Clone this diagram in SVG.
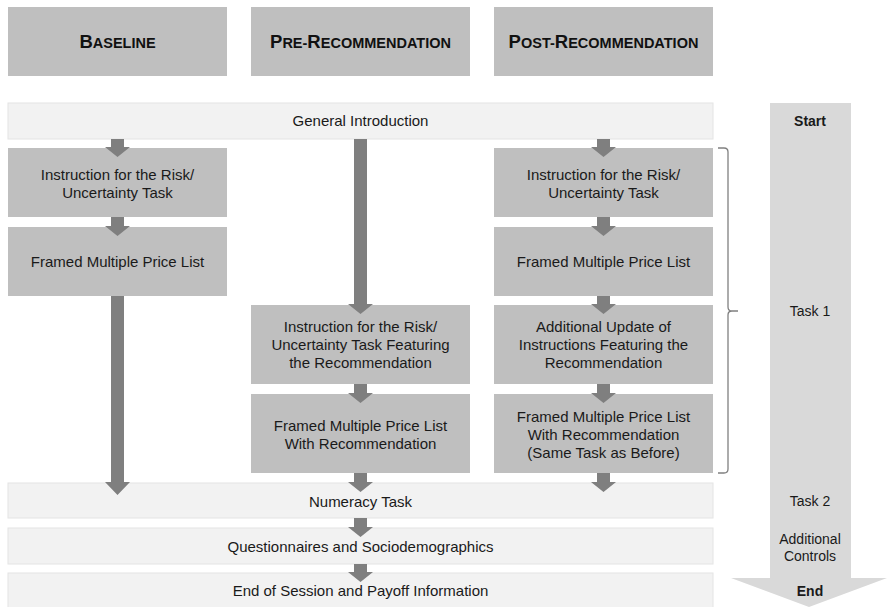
<svg xmlns="http://www.w3.org/2000/svg" width="887" height="607" viewBox="0 0 887 607">
<defs>
<style>
.hdr{fill:#bfbfbf}
.box{fill:#bfbfbf}
.band{fill:#f2f2f2;stroke:#e4e4e4;stroke-width:1}
.t{font-family:"Liberation Sans",Arial,sans-serif;font-size:15px;fill:#1a1a1a;text-anchor:middle}
.h{font-family:"Liberation Sans",Arial,sans-serif;font-weight:bold;fill:#111;text-anchor:middle}
.r{font-family:"Liberation Sans",Arial,sans-serif;font-size:14px;fill:#1a1a1a;text-anchor:middle}
.arr{fill:#7f7f7f}
</style>
</defs>
<rect width="887" height="607" fill="#ffffff"/>
<g id="timeline">
<polygon points="770,103 851,103 851,578 887,578 809,607 731,578 770,578" fill="#d9d9d9"/>
<text class="r" x="810" y="126" font-weight="bold">Start</text>
<text class="r" x="810" y="316">Task 1</text>
<text class="r" x="810" y="506">Task 2</text>
<text class="r" x="810" y="544">Additional</text>
<text class="r" x="810" y="561">Controls</text>
<text class="r" x="810" y="596" font-weight="bold">End</text>
</g>
<g id="hdr-baseline"><rect class="hdr" x="8" y="7" width="219" height="69"/>
<text class="h" x="117.5" y="48"><tspan font-size="18.5">B</tspan><tspan font-size="14.5">ASELINE</tspan></text></g>
<g id="hdr-pre"><rect class="hdr" x="251" y="7" width="219" height="69"/>
<text class="h" x="360.5" y="48"><tspan font-size="18.5">P</tspan><tspan font-size="14.5">RE-</tspan><tspan font-size="18.5">R</tspan><tspan font-size="14.5">ECOMMENDATION</tspan></text></g>
<g id="hdr-post"><rect class="hdr" x="494" y="7" width="219" height="69"/>
<text class="h" x="603.5" y="48"><tspan font-size="18.5">P</tspan><tspan font-size="14.5">OST-</tspan><tspan font-size="18.5">R</tspan><tspan font-size="14.5">ECOMMENDATION</tspan></text></g>
<g id="general-intro"><rect class="band" x="8" y="103" width="705" height="36"/><text class="t" x="360.5" y="126">General Introduction</text></g>
<g id="numeracy"><rect class="band" x="8" y="483" width="705" height="35"/><text class="t" x="360.5" y="507">Numeracy Task</text></g>
<g id="questionnaires"><rect class="band" x="8" y="528" width="705" height="36"/><text class="t" x="360.5" y="552">Questionnaires and Sociodemographics</text></g>
<g id="end-session"><rect class="band" x="8" y="573" width="705" height="36"/><text class="t" x="360.5" y="596">End of Session and Payoff Information</text></g>
<g id="b-instr"><rect class="box" x="8" y="148" width="219" height="69"/>
<text class="t" x="117.5" y="180">Instruction for the Risk/</text><text class="t" x="117.5" y="198">Uncertainty Task</text></g>
<g id="b-mpl"><rect class="box" x="8" y="227" width="219" height="69"/>
<text class="t" x="117.5" y="267">Framed Multiple Price List</text></g>
<g id="pre-instr"><rect class="box" x="251" y="305" width="219" height="79"/>
<text class="t" x="360.5" y="332">Instruction for the Risk/</text><text class="t" x="360.5" y="350">Uncertainty Task Featuring</text><text class="t" x="360.5" y="368">the Recommendation</text></g>
<g id="pre-mpl"><rect class="box" x="251" y="394" width="219" height="79"/>
<text class="t" x="360.5" y="431">Framed Multiple Price List</text><text class="t" x="360.5" y="449">With Recommendation</text></g>
<g id="post-instr"><rect class="box" x="494" y="148" width="219" height="69"/>
<text class="t" x="603.5" y="180">Instruction for the Risk/</text><text class="t" x="603.5" y="198">Uncertainty Task</text></g>
<g id="post-mpl"><rect class="box" x="494" y="227" width="219" height="69"/>
<text class="t" x="603.5" y="267">Framed Multiple Price List</text></g>
<g id="post-update"><rect class="box" x="494" y="305" width="219" height="79"/>
<text class="t" x="603.5" y="332">Additional Update of</text><text class="t" x="603.5" y="350">Instructions Featuring the</text><text class="t" x="603.5" y="368">Recommendation</text></g>
<g id="post-mpl2"><rect class="box" x="494" y="394" width="219" height="79"/>
<text class="t" x="603.5" y="422">Framed Multiple Price List</text><text class="t" x="603.5" y="440">With Recommendation</text><text class="t" x="603.5" y="458">(Same Task as Before)</text></g>
<g id="connectors" class="arr">
<path d="M111,139h13v8h6l-12.5,10l-12.5,-10h6z"/>
<path d="M111,217h13v9h6l-12.5,10l-12.5,-10h6z"/>
<path d="M111,296h13v186h6l-12.5,13l-12.5,-13h6z"/>
<path d="M354,139h13v165h6l-12.5,10l-12.5,-10h6z"/>
<path d="M354,384h13v9h6l-12.5,10l-12.5,-10h6z"/>
<path d="M354,473h13v9h6l-12.5,10l-12.5,-10h6z"/>
<path d="M597,139h13v8h6l-12.5,10l-12.5,-10h6z"/>
<path d="M597,217h13v9h6l-12.5,10l-12.5,-10h6z"/>
<path d="M597,296h13v8h6l-12.5,10l-12.5,-10h6z"/>
<path d="M597,384h13v9h6l-12.5,10l-12.5,-10h6z"/>
<path d="M597,473h13v9h6l-12.5,10l-12.5,-10h6z"/>
<path d="M354,518h13v9h6l-12.5,10l-12.5,-10h6z"/>
<path d="M354,564h13v8h6l-12.5,10l-12.5,-10h6z"/>
</g>
<g id="bracket">
<path d="M718,148 h6 q4,0 4,4 v155 q0,4 4,4 h6 M732,311 q-4,0 -4,4 v154 q0,4 -4,4 h-6" fill="none" stroke="#808080" stroke-width="1.3"/>
</g>
</svg>
